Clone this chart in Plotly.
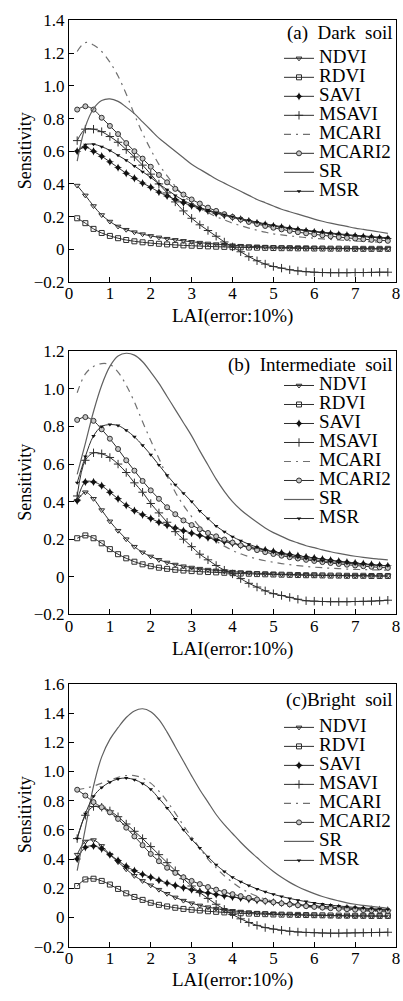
import plotly.graph_objects as go

# ---------------- data ----------------
LAI = [0.2, 0.4, 0.6, 0.8, 1.0, 1.2, 1.4, 1.6, 1.8, 2.0, 2.2, 2.4, 2.6, 2.8, 3.0, 3.2, 3.4, 3.6, 3.8, 4.0,
       4.2, 4.4, 4.6, 4.8, 5.0, 5.2, 5.4, 5.6, 5.8, 6.0, 6.2, 6.4, 6.6, 6.8, 7.0, 7.2, 7.4, 7.6, 7.8]

# (a) Dark soil
NDVI_a = [0.39, 0.33, 0.265, 0.21, 0.17, 0.14, 0.12, 0.105, 0.093, 0.082, 0.073, 0.065, 0.058, 0.052, 0.046, 0.041, 0.036, 0.032, 0.028, 0.025,
          0.022, 0.019, 0.017, 0.015, 0.013, 0.012, 0.011, 0.010, 0.009, 0.008, 0.007, 0.006, 0.006, 0.005, 0.005, 0.004, 0.004, 0.003, 0.003]
RDVI_a = [0.19, 0.16, 0.125, 0.10, 0.082, 0.068, 0.057, 0.049, 0.043, 0.038, 0.034, 0.030, 0.027, 0.024, 0.022, 0.020, 0.018, 0.016, 0.015, 0.013,
          0.012, 0.011, 0.010, 0.009, 0.008, 0.007, 0.007, 0.006, 0.006, 0.005, 0.005, 0.004, 0.004, 0.004, 0.003, 0.003, 0.003, 0.003, 0.003]
SAVI_a = [0.60, 0.625, 0.60, 0.57, 0.535, 0.50, 0.465, 0.435, 0.405, 0.38, 0.35, 0.327, 0.305, 0.285, 0.267, 0.25, 0.235, 0.221, 0.208, 0.196,
          0.184, 0.173, 0.162, 0.152, 0.143, 0.135, 0.127, 0.12, 0.113, 0.107, 0.101, 0.096, 0.091, 0.086, 0.082, 0.078, 0.074, 0.07, 0.067]
MSAVI_a = [0.665, 0.735, 0.735, 0.72, 0.69, 0.655, 0.61, 0.565, 0.515, 0.46, 0.40, 0.345, 0.29, 0.235, 0.19, 0.15, 0.115, 0.08, 0.045, 0.015,
           -0.015, -0.045, -0.07, -0.09, -0.105, -0.115, -0.125, -0.132, -0.137, -0.14, -0.142, -0.143, -0.143, -0.143, -0.142, -0.142, -0.141, -0.14, -0.14]
MCARI_a = [1.21, 1.265, 1.25, 1.21, 1.145, 1.06, 0.95, 0.825, 0.71, 0.61, 0.52, 0.45, 0.385, 0.33, 0.285, 0.25, 0.225, 0.20, 0.18, 0.16,
           0.145, 0.13, 0.117, 0.105, 0.095, 0.088, 0.082, 0.077, 0.072, 0.068, 0.064, 0.06, 0.057, 0.054, 0.051, 0.048, 0.046, 0.044, 0.042]
MCARI2_a = [0.855, 0.875, 0.855, 0.805, 0.755, 0.705, 0.65, 0.60, 0.555, 0.505, 0.455, 0.41, 0.37, 0.335, 0.305, 0.28, 0.255, 0.235, 0.215, 0.198,
            0.182, 0.168, 0.155, 0.143, 0.132, 0.122, 0.113, 0.105, 0.098, 0.092, 0.086, 0.08, 0.075, 0.07, 0.066, 0.062, 0.058, 0.055, 0.052]
SR_a = [0.54, 0.75, 0.86, 0.91, 0.92, 0.905, 0.87, 0.83, 0.78, 0.73, 0.68, 0.64, 0.60, 0.56, 0.52, 0.49, 0.46, 0.43, 0.405, 0.38,
        0.355, 0.33, 0.305, 0.285, 0.265, 0.245, 0.23, 0.215, 0.20, 0.185, 0.172, 0.16, 0.15, 0.14, 0.13, 0.122, 0.114, 0.106, 0.098]
MSR_a = [0.60, 0.64, 0.643, 0.628, 0.605, 0.575, 0.545, 0.51, 0.475, 0.44, 0.40, 0.365, 0.33, 0.30, 0.275, 0.255, 0.24, 0.225, 0.212, 0.20,
         0.188, 0.177, 0.166, 0.156, 0.147, 0.139, 0.131, 0.124, 0.117, 0.111, 0.105, 0.10, 0.095, 0.09, 0.086, 0.082, 0.078, 0.074, 0.071]

# (b) Intermediate soil
NDVI_b = [0.405, 0.45, 0.415, 0.355, 0.295, 0.245, 0.20, 0.16, 0.13, 0.108, 0.09, 0.076, 0.065, 0.056, 0.049, 0.043, 0.038, 0.034, 0.03, 0.027,
          0.024, 0.021, 0.019, 0.017, 0.015, 0.013, 0.012, 0.011, 0.01, 0.009, 0.008, 0.007, 0.007, 0.006, 0.006, 0.005, 0.005, 0.004, 0.004]
RDVI_b = [0.205, 0.22, 0.205, 0.178, 0.147, 0.12, 0.098, 0.08, 0.066, 0.056, 0.048, 0.042, 0.037, 0.033, 0.03, 0.027, 0.025, 0.023, 0.021, 0.019,
          0.017, 0.016, 0.014, 0.013, 0.012, 0.011, 0.01, 0.009, 0.008, 0.008, 0.007, 0.006, 0.006, 0.005, 0.005, 0.005, 0.004, 0.004, 0.004]
SAVI_b = [0.405, 0.505, 0.505, 0.485, 0.45, 0.415, 0.38, 0.352, 0.33, 0.31, 0.29, 0.274, 0.26, 0.245, 0.232, 0.22, 0.208, 0.197, 0.187, 0.178,
          0.168, 0.159, 0.15, 0.142, 0.134, 0.126, 0.119, 0.112, 0.106, 0.10, 0.094, 0.088, 0.083, 0.078, 0.073, 0.069, 0.065, 0.061, 0.058]
MSAVI_b = [0.43, 0.62, 0.66, 0.655, 0.635, 0.60, 0.555, 0.50, 0.45, 0.39, 0.34, 0.29, 0.24, 0.20, 0.16, 0.12, 0.09, 0.06, 0.035, 0.015,
           -0.01, -0.035, -0.055, -0.075, -0.09, -0.10, -0.11, -0.12, -0.128, -0.13, -0.132, -0.133, -0.133, -0.133, -0.132, -0.131, -0.13, -0.128, -0.125]
MCARI_b = [0.98, 1.08, 1.12, 1.135, 1.13, 1.09, 1.02, 0.93, 0.825, 0.725, 0.63, 0.535, 0.45, 0.38, 0.32, 0.265, 0.225, 0.19, 0.163, 0.14,
           0.122, 0.107, 0.095, 0.085, 0.077, 0.07, 0.064, 0.059, 0.055, 0.051, 0.048, 0.045, 0.043, 0.041, 0.039, 0.038, 0.037, 0.036, 0.035]
MCARI2_b = [0.835, 0.85, 0.83, 0.785, 0.735, 0.68, 0.62, 0.565, 0.51, 0.46, 0.415, 0.37, 0.333, 0.30, 0.275, 0.253, 0.233, 0.215, 0.198, 0.182,
            0.167, 0.154, 0.142, 0.131, 0.121, 0.112, 0.104, 0.097, 0.09, 0.084, 0.078, 0.073, 0.068, 0.064, 0.06, 0.056, 0.053, 0.05, 0.047]
SR_b = [0.545, 0.71, 0.88, 1.02, 1.12, 1.175, 1.19, 1.18, 1.145, 1.09, 1.03, 0.96, 0.89, 0.82, 0.75, 0.67, 0.595, 0.52, 0.455, 0.40,
        0.357, 0.322, 0.29, 0.26, 0.235, 0.215, 0.195, 0.18, 0.165, 0.155, 0.143, 0.133, 0.124, 0.116, 0.109, 0.103, 0.098, 0.094, 0.09]
MSR_b = [0.50, 0.64, 0.75, 0.80, 0.81, 0.805, 0.78, 0.745, 0.70, 0.65, 0.595, 0.54, 0.49, 0.445, 0.40, 0.35, 0.31, 0.27, 0.24, 0.213,
         0.192, 0.173, 0.157, 0.143, 0.131, 0.121, 0.112, 0.104, 0.097, 0.091, 0.085, 0.08, 0.076, 0.072, 0.068, 0.065, 0.062, 0.06, 0.058]

# (c) Bright soil
NDVI_c = [0.43, 0.52, 0.53, 0.49, 0.43, 0.38, 0.33, 0.285, 0.25, 0.22, 0.19, 0.162, 0.137, 0.115, 0.097, 0.082, 0.07, 0.06, 0.052, 0.045,
          0.04, 0.035, 0.031, 0.028, 0.025, 0.022, 0.02, 0.018, 0.016, 0.015, 0.013, 0.012, 0.011, 0.01, 0.009, 0.009, 0.008, 0.008, 0.007]
RDVI_c = [0.215, 0.26, 0.265, 0.25, 0.225, 0.195, 0.165, 0.14, 0.12, 0.10, 0.086, 0.075, 0.066, 0.058, 0.052, 0.047, 0.042, 0.038, 0.034, 0.031,
          0.028, 0.026, 0.024, 0.022, 0.02, 0.019, 0.018, 0.017, 0.016, 0.015, 0.014, 0.013, 0.012, 0.012, 0.011, 0.011, 0.01, 0.01, 0.01]
SAVI_c = [0.40, 0.48, 0.49, 0.47, 0.43, 0.39, 0.35, 0.32, 0.295, 0.275, 0.255, 0.235, 0.218, 0.203, 0.19, 0.178, 0.167, 0.157, 0.148, 0.14,
          0.132, 0.124, 0.117, 0.11, 0.104, 0.098, 0.093, 0.088, 0.083, 0.079, 0.075, 0.071, 0.067, 0.064, 0.061, 0.058, 0.055, 0.053, 0.05]
MSAVI_c = [0.54, 0.70, 0.76, 0.755, 0.73, 0.69, 0.64, 0.59, 0.54, 0.485, 0.43, 0.375, 0.32, 0.265, 0.215, 0.17, 0.13, 0.09, 0.055, 0.02,
           -0.01, -0.035, -0.055, -0.07, -0.08, -0.088, -0.095, -0.10, -0.103, -0.105, -0.107, -0.108, -0.108, -0.107, -0.106, -0.105, -0.104, -0.103, -0.102]
MCARI_c = [0.875, 0.885, 0.90, 0.92, 0.94, 0.96, 0.972, 0.972, 0.955, 0.92, 0.865, 0.795, 0.715, 0.63, 0.55, 0.475, 0.40, 0.34, 0.285, 0.24,
           0.20, 0.17, 0.145, 0.125, 0.11, 0.098, 0.088, 0.08, 0.073, 0.067, 0.062, 0.057, 0.053, 0.05, 0.047, 0.044, 0.042, 0.04, 0.038]
MCARI2_c = [0.875, 0.835, 0.79, 0.755, 0.72, 0.675, 0.615, 0.555, 0.495, 0.435, 0.385, 0.34, 0.305, 0.275, 0.25, 0.228, 0.208, 0.19, 0.174, 0.159,
            0.146, 0.134, 0.123, 0.113, 0.104, 0.096, 0.089, 0.083, 0.077, 0.072, 0.067, 0.063, 0.059, 0.056, 0.053, 0.05, 0.048, 0.046, 0.044]
SR_c = [0.32, 0.61, 0.90, 1.10, 1.22, 1.30, 1.37, 1.415, 1.43, 1.41, 1.355, 1.27, 1.17, 1.07, 0.97, 0.875, 0.79, 0.705, 0.635, 0.575,
        0.515, 0.46, 0.41, 0.36, 0.315, 0.275, 0.24, 0.21, 0.185, 0.163, 0.143, 0.127, 0.113, 0.10, 0.09, 0.082, 0.075, 0.068, 0.062]
MSR_c = [0.54, 0.71, 0.83, 0.89, 0.927, 0.949, 0.955, 0.944, 0.918, 0.878, 0.815, 0.75, 0.675, 0.60, 0.535, 0.475, 0.415, 0.36, 0.315, 0.275,
         0.245, 0.218, 0.195, 0.175, 0.158, 0.143, 0.13, 0.118, 0.108, 0.099, 0.091, 0.084, 0.078, 0.073, 0.068, 0.064, 0.06, 0.057, 0.054]

SERIES_NAMES = ["NDVI", "RDVI", "SAVI", "MSAVI", "MCARI", "MCARI2", "SR", "MSR"]
PANEL_TITLES = ["(a)\u00a0 Dark\u00a0 soil", "(b)\u00a0 Intermediate\u00a0 soil", "(c)Bright\u00a0 soil"]
X_TITLE = "LAI(error:10%)"
Y_TITLE = "Sensitivity"
X_TICKS = [0, 1, 2, 3, 4, 5, 6, 7, 8]
Y_TICKS_AB = [-0.2, 0, 0.2, 0.4, 0.6, 0.8, 1.0, 1.2, 1.4]
Y_TICKTEXT_AB = ["\u22120.2", "0", "0.2", "0.4", "0.6", "0.8", "1.0", "1.2", "1.4"]
Y_TICKS_C = [-0.2, 0, 0.2, 0.4, 0.6, 0.8, 1.0, 1.2, 1.4, 1.6]
Y_TICKTEXT_C = ["\u22120.2", "0", "0.2", "0.4", "0.6", "0.8", "1.0", "1.2", "1.4", "1.6"]

PANELS = [
    dict(data=[NDVI_a, RDVI_a, SAVI_a, MSAVI_a, MCARI_a, MCARI2_a, SR_a, MSR_a],
         yrange=[-0.2, 1.4], yticks=Y_TICKS_AB, yticktext=Y_TICKTEXT_AB),
    dict(data=[NDVI_b, RDVI_b, SAVI_b, MSAVI_b, MCARI_b, MCARI2_b, SR_b, MSR_b],
         yrange=[-0.2, 1.2], yticks=Y_TICKS_AB[:-1], yticktext=Y_TICKTEXT_AB[:-1]),
    dict(data=[NDVI_c, RDVI_c, SAVI_c, MSAVI_c, MCARI_c, MCARI2_c, SR_c, MSR_c],
         yrange=[-0.2, 1.6], yticks=Y_TICKS_C, yticktext=Y_TICKTEXT_C),
]

# ---------------- styling ----------------
W, H = 403, 1001
ML, MR = 69, 7
PLOT_W = W - ML - MR
PANEL_PX = [(11.7, 278.3), (349.0, 617.0), (688.0, 955.7)]   # top / bottom pixel of each plot area
XLABEL_PX = [313, 652, 990]
TITLE_PX = [24, 363, 704]
LEGEND_TOP_PX = [35.5, 369, 717.5]
LEGEND_LEFT_PX = 279

FONT = "Liberation Serif, Times New Roman, serif"
DARK = "#2e2e2e"

STYLES = {
    "NDVI": dict(mode="lines+markers", line=dict(color=DARK, width=1),
                 marker=dict(symbol="triangle-down-open", size=5, color=DARK, line=dict(color=DARK, width=1))),
    "RDVI": dict(mode="lines+markers", line=dict(color=DARK, width=1),
                 marker=dict(symbol="square-open", size=5, color=DARK, line=dict(color=DARK, width=1))),
    "SAVI": dict(mode="lines+markers", line=dict(color=DARK, width=1),
                 marker=dict(symbol="star-diamond", size=6, color="#111", line=dict(color="#111", width=0))),
    "MSAVI": dict(mode="lines+markers", line=dict(color=DARK, width=1),
                  marker=dict(symbol="cross-thin-open", size=6, color=DARK, line=dict(color=DARK, width=1))),
    "MCARI": dict(mode="lines", line=dict(color="#707070", width=1.2, dash="7px,5px,2px,5px")),
    "MCARI2": dict(mode="lines+markers", line=dict(color=DARK, width=1),
                   marker=dict(symbol="circle", size=5, color="#c4c4c4", line=dict(color="#333", width=1))),
    "SR": dict(mode="lines", line=dict(color="#606060", width=1.2)),
    "MSR": dict(mode="lines+markers", line=dict(color=DARK, width=1),
                marker=dict(symbol="triangle-down", size=4, color="#111", line=dict(color="#111", width=0))),
}

fig = go.Figure()
legend_ids = ["legend", "legend2", "legend3"]
annotations = []

for i, p in enumerate(PANELS):
    sfx = "" if i == 0 else str(i + 1)
    for name, yvals in zip(SERIES_NAMES, p["data"]):
        st = STYLES[name]
        fig.add_trace(go.Scatter(
            x=LAI, y=yvals,
            name='<span style="font-size:19px">%s</span>' % name,
            xaxis="x" + sfx, yaxis="y" + sfx, legend=legend_ids[i],
            line_shape="spline", **st))

    top, bot = PANEL_PX[i]
    dom = [1 - bot / H, 1 - top / H]
    axis_common = dict(showline=True, linecolor="black", linewidth=1, mirror=True,
                       ticks="inside", ticklen=5, tickwidth=1, tickcolor="black",
                       showgrid=False, zeroline=False,
                       tickfont=dict(family=FONT, size=17, color="black"))
    fig.update_layout(**{
        "xaxis" + sfx: dict(domain=[0, 1], range=[0, 8], anchor="y" + sfx,
                            tickmode="array", tickvals=X_TICKS, ticklabelstandoff=-4,
                            **axis_common),
        "yaxis" + sfx: dict(domain=dom, range=p["yrange"], anchor="x" + sfx,
                            tickmode="array", tickvals=p["yticks"], ticktext=p["yticktext"],
                            **axis_common),
        legend_ids[i]: dict(x=(LEGEND_LEFT_PX - ML) / PLOT_W, y=1 - LEGEND_TOP_PX[i] / H,
                            xanchor="left", yanchor="top", bgcolor="rgba(0,0,0,0)",
                            borderwidth=0, itemwidth=30, tracegroupgap=0,
                            font=dict(family=FONT, size=12, color="black")),
    })

    # panel title
    annotations.append(dict(text=PANEL_TITLES[i], xref="paper", yref="paper",
                            x=(395 - ML) / PLOT_W, y=1 - TITLE_PX[i] / H,
                            xanchor="right", yanchor="middle", showarrow=False,
                            font=dict(family=FONT, size=19, color="black")))
    # axis titles
    annotations.append(dict(text=X_TITLE, xref="paper", yref="paper",
                            x=0.5, y=1 - XLABEL_PX[i] / H, xanchor="center", yanchor="middle",
                            showarrow=False, font=dict(family=FONT, size=19, color="black")))
    annotations.append(dict(text=Y_TITLE, xref="paper", yref="paper",
                            x=(25 - ML) / PLOT_W, y=1 - (top + bot) / 2 / H,
                            xanchor="center", yanchor="middle", textangle=-90,
                            showarrow=False, font=dict(family=FONT, size=18, color="black")))

fig.update_layout(width=W, height=H, margin=dict(l=ML, r=MR, t=0, b=0),
                  paper_bgcolor="white", plot_bgcolor="white",
                  font=dict(family=FONT, color="black"),
                  annotations=annotations, showlegend=True)

fig.write_html("out.html", config={"displayModeBar": False},
               post_script="document.body.style.margin='0px';document.body.style.overflow='hidden';")
